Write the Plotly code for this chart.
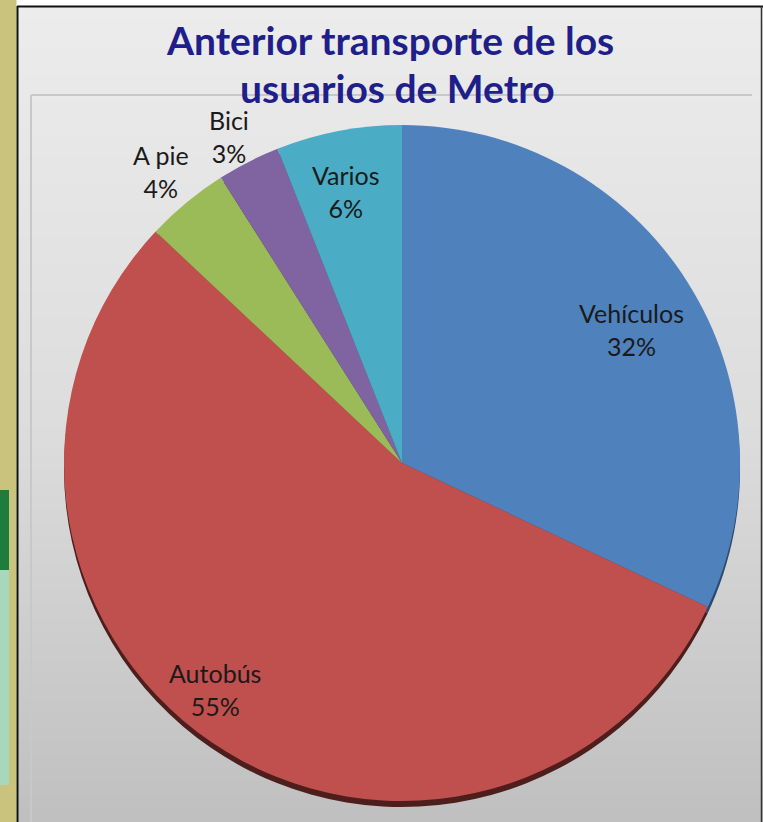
import plotly.graph_objects as go

# ---- data ----
categories = ["Vehículos", "Autobús", "A pie", "Bici", "Varios"]
percent = [32, 55, 4, 3, 6]
colors = ["#4F81BD", "#C0504D", "#9BBB59", "#8064A2", "#4BACC6"]
rim_colors = ["#2C4A6E", "#4E1E1D", "#55662F", "#453657", "#2A6070"]
title_lines = ["Anterior transporte de los", "usuarios de Metro"]

W, H = 763, 822

def px(x):
    return x / W

def py(y):
    return 1 - y / H

# pie geometry (pixels)
cx, cy, r = 402, 463, 338
rim = 6

fig = go.Figure()

# 3D rim (shadow) pie, shifted down
fig.add_trace(go.Pie(
    labels=categories, values=percent, sort=False, direction="clockwise",
    rotation=0, marker=dict(colors=rim_colors, line=dict(width=0)),
    textinfo="none", hoverinfo="skip", showlegend=False,
    domain=dict(x=[px(cx - r), px(cx + r)], y=[py(cy + rim + r), py(cy + rim - r)]),
))
# main pie
fig.add_trace(go.Pie(
    labels=categories, values=percent, sort=False, direction="clockwise",
    rotation=0, marker=dict(colors=colors, line=dict(width=0)),
    textinfo="none", showlegend=False,
    domain=dict(x=[px(cx - r), px(cx + r)], y=[py(cy + r), py(cy - r)]),
))

shapes = []
# white top strip
shapes.append(dict(type="rect", xref="paper", yref="paper", x0=0, x1=1, y0=py(6), y1=1,
                   fillcolor="#FFFFFF", line=dict(width=0), layer="below"))
# gradient background inside frame
top_c, mid_c, bot_c = (236, 236, 236), (221, 221, 221), (192, 192, 192)
n = 60
y_start, y_end = 6, H
for i in range(n):
    t = i / (n - 1)
    if t < 0.5:
        a, b, u = top_c, mid_c, t / 0.5
    else:
        a, b, u = mid_c, bot_c, (t - 0.5) / 0.5
    c = tuple(int(round(a[k] + (b[k] - a[k]) * u)) for k in range(3))
    y0 = y_start + (y_end - y_start) * i / n
    y1 = y_start + (y_end - y_start) * (i + 1) / n + 1
    shapes.append(dict(type="rect", xref="paper", yref="paper",
                       x0=px(17), x1=px(763), y0=py(min(y1, H)), y1=py(y0),
                       fillcolor="rgb(%d,%d,%d)" % c, line=dict(width=0), layer="below"))
# khaki left strip
shapes.append(dict(type="rect", xref="paper", yref="paper", x0=0, x1=px(16.5), y0=0, y1=1,
                   fillcolor="#C9C37E", line=dict(width=0), layer="below"))
# green decoration on strip
shapes.append(dict(type="rect", xref="paper", yref="paper", x0=0, x1=px(9), y0=py(785), y1=py(490),
                   fillcolor="#A8D8BC", line=dict(width=0), layer="below"))
shapes.append(dict(type="rect", xref="paper", yref="paper", x0=0, x1=px(9), y0=py(570), y1=py(490),
                   fillcolor="#1E7D3C", line=dict(width=0), layer="below"))
# black frame
shapes.append(dict(type="line", xref="paper", yref="paper", x0=px(17.5), x1=px(17.5), y0=0, y1=py(6),
                   line=dict(color="#111111", width=2), layer="below"))
shapes.append(dict(type="line", xref="paper", yref="paper", x0=px(17), x1=1, y0=py(6.5), y1=py(6.5),
                   line=dict(color="#111111", width=2), layer="below"))
shapes.append(dict(type="line", xref="paper", yref="paper", x0=px(761.5), x1=px(761.5), y0=0, y1=py(6),
                   line=dict(color="#333333", width=1.5), layer="below"))
# plot area border (light gray)
shapes.append(dict(type="line", xref="paper", yref="paper", x0=px(31), x1=px(752), y0=py(95), y1=py(95),
                   line=dict(color="#C8C8C8", width=2), layer="below"))
shapes.append(dict(type="line", xref="paper", yref="paper", x0=px(31), x1=px(31), y0=0, y1=py(95),
                   line=dict(color="#C8C8C8", width=2), layer="below"))

annotations = []
# title (two lines)
title_pos = [(390, 40), (397, 88)]
for line, (x, y) in zip(title_lines, title_pos):
    annotations.append(dict(
        x=px(x), y=py(y), xref="paper", yref="paper", showarrow=False,
        text=f"<b>{line}</b>", xanchor="center", yanchor="middle",
        font=dict(family="Lato, sans-serif", size=39, color="#201E8A"),
    ))

# data labels
label_pos = {
    "Vehículos": (631, 329),
    "Autobús": (215, 689),
    "A pie": (161, 172),
    "Bici": (229, 136),
    "Varios": (346, 192),
}
for cat, val in zip(categories, percent):
    x, y = label_pos[cat]
    annotations.append(dict(
        x=px(x), y=py(y), xref="paper", yref="paper", showarrow=False,
        text=f"{cat}<br>{val}%", align="center", xanchor="center", yanchor="middle",
        font=dict(family="Lato, sans-serif", size=25, color="#1A1A1A"),
    ))

fig.update_layout(
    width=W, height=H, margin=dict(l=0, r=0, t=0, b=0),
    paper_bgcolor="#FFFFFF", plot_bgcolor="rgba(0,0,0,0)",
    shapes=shapes, annotations=annotations, showlegend=False,
)

fig.write_html(
    "out.html",
    config={"displayModeBar": False},
    post_script="document.body.style.margin='0';document.body.style.overflow='hidden';",
)
